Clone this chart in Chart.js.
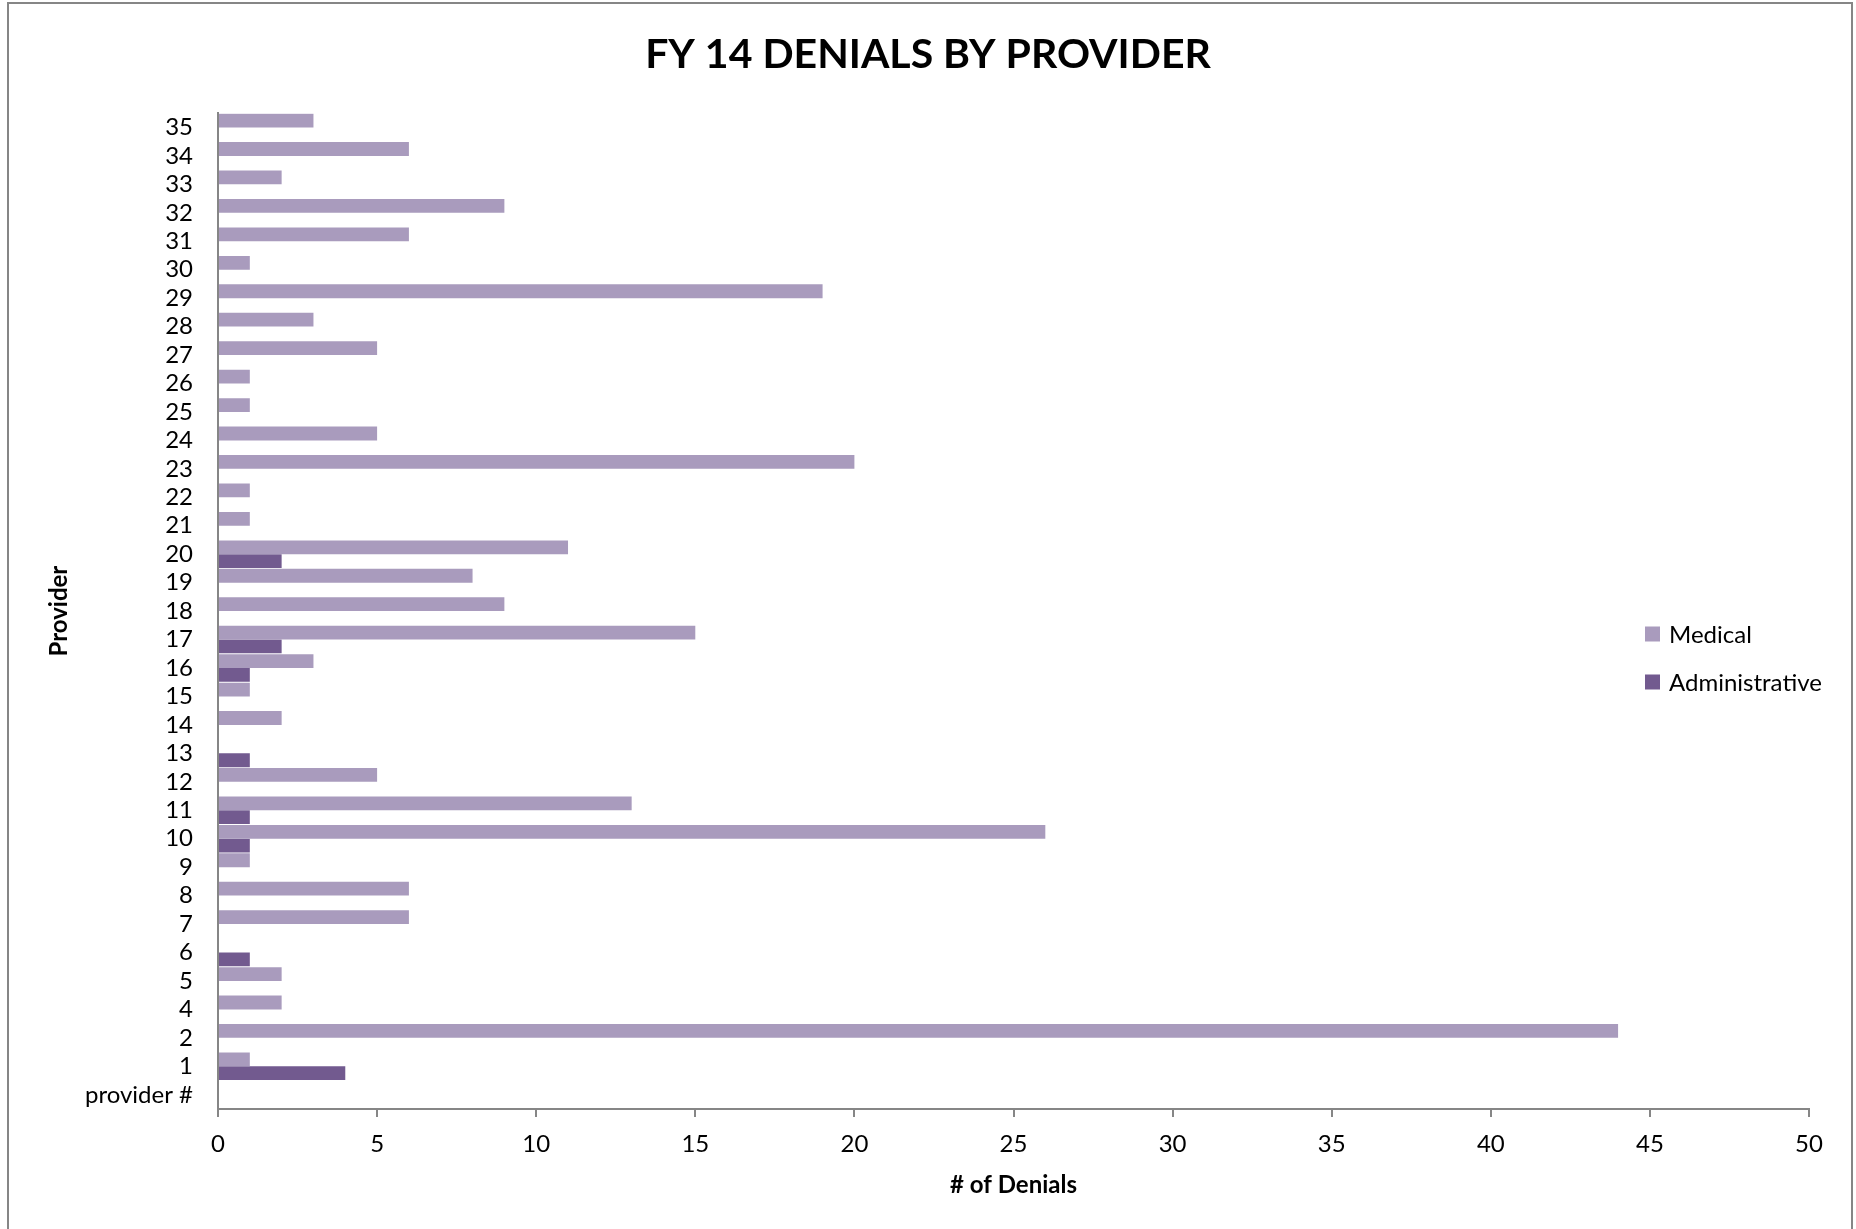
<!DOCTYPE html>
<html>
<head>
<meta charset="utf-8">
<title>FY 14 Denials by Provider</title>
<script src="https://cdn.jsdelivr.net/npm/chart.js@4.4.1/dist/chart.umd.min.js"></script>
<style>
  html, body { margin: 0; padding: 0; background: #ffffff; }
  #wrap { width: 1856px; height: 1229px; }
  canvas { display: block; }
</style>
</head>
<body>
<div id="wrap"><canvas id="chart" width="1856" height="1229"></canvas></div>
<script>
// Provider categories, listed from the bottom of the axis upward
const providers = ['provider #', '1', '2', '4', '5', '6', '7', '8', '9', '10',
  '11', '12', '13', '14', '15', '16', '17', '18', '19', '20',
  '21', '22', '23', '24', '25', '26', '27', '28', '29', '30',
  '31', '32', '33', '34', '35'];

// Denial counts per provider
const medicalDenials = [null, 1, 44, 2, 2, null, 6, 6, 1, 26,
  13, 5, null, 2, 1, 3, 15, 9, 8, 11,
  1, 1, 20, 5, 1, 1, 5, 3, 19, 1,
  6, 9, 2, 6, 3];
const administrativeDenials = [null, 4, null, null, null, 1, null, null, null, 1,
  1, null, 1, null, null, 1, 2, null, null, 2,
  null, null, null, null, null, null, null, null, null, null,
  null, null, null, null, null];

const seriesNames = ['Medical', 'Administrative'];
const denialTicks = [0, 5, 10, 15, 20, 25, 30, 35, 40, 45, 50];

const FONT = 'Lato, "Open Sans", sans-serif';
const AXIS_GREY = '#868686';

// Outer frame of the chart
const framePlugin = {
  id: 'frame',
  beforeDraw(chart) {
    const ctx = chart.ctx;
    ctx.save();
    ctx.fillStyle = '#ffffff';
    ctx.fillRect(0, 0, chart.width, chart.height);
    ctx.strokeStyle = AXIS_GREY;
    ctx.lineWidth = 2;
    ctx.strokeRect(8, 3, 1844, 1260);
    ctx.restore();
  }
};

// Legend drawn over the right side of the plot
const sideLegend = {
  id: 'sideLegend',
  afterDraw(chart, args, opts) {
    const items = Chart.defaults.plugins.legend.labels.generateLabels(chart);
    const ctx = chart.ctx;
    ctx.save();
    ctx.font = `${opts.fontSize}px ${FONT}`;
    ctx.textBaseline = 'middle';
    ctx.textAlign = 'left';
    items.forEach((item, i) => {
      const cy = opts.y + i * opts.spacing;
      ctx.fillStyle = item.fillStyle;
      ctx.fillRect(opts.x, cy - opts.box / 2, opts.box, opts.box);
      ctx.fillStyle = '#000000';
      ctx.fillText(item.text, opts.x + opts.box + opts.gap, cy + 1);
    });
    ctx.restore();
  }
};

function build() {
  Chart.defaults.font.family = FONT;
  Chart.defaults.color = '#000000';

  new Chart(document.getElementById('chart'), {
    type: 'bar',
    data: {
      labels: providers,
      datasets: [
        {
          label: seriesNames[0],
          data: medicalDenials,
          backgroundColor: '#A99BBD',
          borderWidth: 0,
          categoryPercentage: 0.97,
          barPercentage: 1.0
        },
        {
          label: seriesNames[1],
          data: administrativeDenials,
          backgroundColor: '#725A8F',
          borderWidth: 0,
          categoryPercentage: 0.97,
          barPercentage: 1.0
        }
      ]
    },
    options: {
      indexAxis: 'y',
      responsive: false,
      animation: false,
      devicePixelRatio: 1,
      layout: { padding: 0 },
      plugins: {
        legend: { display: false },
        tooltip: { enabled: false },
        title: {
          display: true,
          text: 'FY 14 DENIALS BY PROVIDER',
          color: '#000000',
          font: { family: FONT, size: 41, weight: 'bold', lineHeight: 1.2 },
          padding: { top: 30, bottom: 34 }
        },
        sideLegend: { x: 1645, y: 634, spacing: 48, box: 15, gap: 9, fontSize: 24 }
      },
      scales: {
        x: {
          type: 'linear',
          position: 'bottom',
          min: denialTicks[0],
          max: denialTicks[denialTicks.length - 1],
          afterFit(scale) { scale.height = 120; },
          ticks: {
            stepSize: denialTicks[1] - denialTicks[0],
            padding: 13,
            color: '#000000',
            font: { size: 24 }
          },
          grid: {
            drawOnChartArea: false,
            drawTicks: true,
            tickLength: 8,
            color: AXIS_GREY,
            lineWidth: 2
          },
          border: { display: true, color: AXIS_GREY, width: 2 },
          title: {
            display: true,
            text: '# of Denials',
            color: '#000000',
            font: { size: 24, weight: 'bold' },
            padding: { top: 0, bottom: 29 }
          }
        },
        y: {
          type: 'category',
          reverse: true,
          afterFit(scale) { scale.width = 218; },
          ticks: {
            autoSkip: false,
            padding: 25,
            color: '#000000',
            font: { size: 24 }
          },
          grid: { display: false, drawTicks: false },
          border: { display: true, color: AXIS_GREY, width: 2 },
          title: {
            display: true,
            text: 'Provider',
            color: '#000000',
            font: { size: 24, weight: 'bold' },
            padding: { top: 45, bottom: 0 }
          }
        },
        // empty right-hand margin so the plot ends at 50 while the title stays centred on the page
        margin: {
          type: 'linear',
          position: 'right',
          display: true,
          afterFit(scale) { scale.width = 47; },
          ticks: { display: false },
          grid: { display: false, drawTicks: false },
          border: { display: false }
        }
      }
    },
    plugins: [framePlugin, sideLegend]
  });
}

if (document.fonts && document.fonts.load) {
  Promise.all([
    document.fonts.load('24px Lato'),
    document.fonts.load('bold 24px Lato')
  ]).then(build, build);
} else {
  build();
}
</script>
</body>
</html>
